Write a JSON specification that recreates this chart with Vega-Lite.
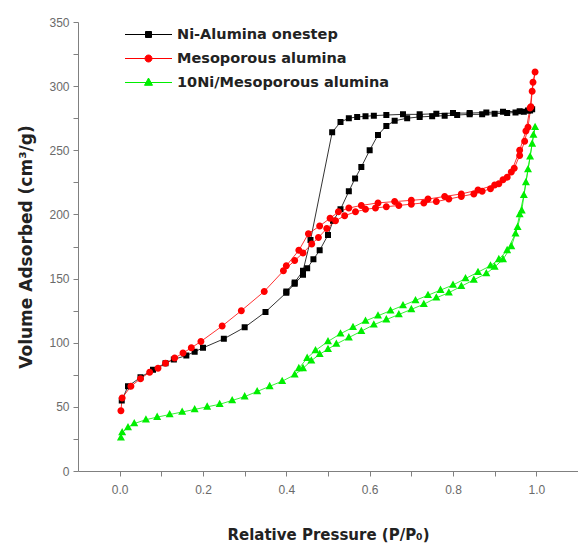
{
  "$schema": "https://vega.github.io/schema/vega-lite/v6.json",
  "width": 500,
  "height": 449,
  "autosize": {"type": "none"},
  "padding": {"left": 78, "top": 22, "right": 0, "bottom": 75},
  "background": "white",
  "config": {"view": {"stroke": null}},
  "datasets": {
    "iso": [
      {"s": "Ni-Alumina onestep", "o": 1, "p": 0.005, "v": 55},
      {"s": "Ni-Alumina onestep", "o": 2, "p": 0.02, "v": 66},
      {"s": "Ni-Alumina onestep", "o": 3, "p": 0.05, "v": 73},
      {"s": "Ni-Alumina onestep", "o": 4, "p": 0.08, "v": 79},
      {"s": "Ni-Alumina onestep", "o": 5, "p": 0.11, "v": 84},
      {"s": "Ni-Alumina onestep", "o": 6, "p": 0.13, "v": 87},
      {"s": "Ni-Alumina onestep", "o": 7, "p": 0.16, "v": 90},
      {"s": "Ni-Alumina onestep", "o": 8, "p": 0.18, "v": 93},
      {"s": "Ni-Alumina onestep", "o": 9, "p": 0.2, "v": 96},
      {"s": "Ni-Alumina onestep", "o": 10, "p": 0.25, "v": 103},
      {"s": "Ni-Alumina onestep", "o": 11, "p": 0.3, "v": 112},
      {"s": "Ni-Alumina onestep", "o": 12, "p": 0.35, "v": 124},
      {"s": "Ni-Alumina onestep", "o": 13, "p": 0.4, "v": 139},
      {"s": "Ni-Alumina onestep", "o": 14, "p": 0.42, "v": 146},
      {"s": "Ni-Alumina onestep", "o": 15, "p": 0.44, "v": 153},
      {"s": "Ni-Alumina onestep", "o": 16, "p": 0.45, "v": 158},
      {"s": "Ni-Alumina onestep", "o": 17, "p": 0.465, "v": 165},
      {"s": "Ni-Alumina onestep", "o": 18, "p": 0.48, "v": 172},
      {"s": "Ni-Alumina onestep", "o": 19, "p": 0.5, "v": 184},
      {"s": "Ni-Alumina onestep", "o": 20, "p": 0.512, "v": 195},
      {"s": "Ni-Alumina onestep", "o": 21, "p": 0.53, "v": 204},
      {"s": "Ni-Alumina onestep", "o": 22, "p": 0.55, "v": 218},
      {"s": "Ni-Alumina onestep", "o": 23, "p": 0.565, "v": 228},
      {"s": "Ni-Alumina onestep", "o": 24, "p": 0.58, "v": 237},
      {"s": "Ni-Alumina onestep", "o": 25, "p": 0.6, "v": 250},
      {"s": "Ni-Alumina onestep", "o": 26, "p": 0.62, "v": 262},
      {"s": "Ni-Alumina onestep", "o": 27, "p": 0.64, "v": 269},
      {"s": "Ni-Alumina onestep", "o": 28, "p": 0.66, "v": 273},
      {"s": "Ni-Alumina onestep", "o": 29, "p": 0.69, "v": 275},
      {"s": "Ni-Alumina onestep", "o": 30, "p": 0.72, "v": 276},
      {"s": "Ni-Alumina onestep", "o": 31, "p": 0.75, "v": 276.5},
      {"s": "Ni-Alumina onestep", "o": 32, "p": 0.78, "v": 277},
      {"s": "Ni-Alumina onestep", "o": 33, "p": 0.81, "v": 277.5},
      {"s": "Ni-Alumina onestep", "o": 34, "p": 0.84, "v": 278},
      {"s": "Ni-Alumina onestep", "o": 35, "p": 0.87, "v": 278},
      {"s": "Ni-Alumina onestep", "o": 36, "p": 0.9, "v": 278.5},
      {"s": "Ni-Alumina onestep", "o": 37, "p": 0.93, "v": 279},
      {"s": "Ni-Alumina onestep", "o": 38, "p": 0.95, "v": 279.5},
      {"s": "Ni-Alumina onestep", "o": 39, "p": 0.97, "v": 280},
      {"s": "Ni-Alumina onestep", "o": 40, "p": 0.98, "v": 281},
      {"s": "Ni-Alumina onestep", "o": 41, "p": 0.99, "v": 282},
      {"s": "Ni-Alumina onestep", "o": 42, "p": 0.985, "v": 281},
      {"s": "Ni-Alumina onestep", "o": 43, "p": 0.96, "v": 280.5},
      {"s": "Ni-Alumina onestep", "o": 44, "p": 0.92, "v": 280},
      {"s": "Ni-Alumina onestep", "o": 45, "p": 0.88, "v": 279.5},
      {"s": "Ni-Alumina onestep", "o": 46, "p": 0.84, "v": 279},
      {"s": "Ni-Alumina onestep", "o": 47, "p": 0.8, "v": 279},
      {"s": "Ni-Alumina onestep", "o": 48, "p": 0.76, "v": 278.5},
      {"s": "Ni-Alumina onestep", "o": 49, "p": 0.72, "v": 278},
      {"s": "Ni-Alumina onestep", "o": 50, "p": 0.68, "v": 278},
      {"s": "Ni-Alumina onestep", "o": 51, "p": 0.64, "v": 277.5},
      {"s": "Ni-Alumina onestep", "o": 52, "p": 0.61, "v": 277},
      {"s": "Ni-Alumina onestep", "o": 53, "p": 0.59, "v": 276.5},
      {"s": "Ni-Alumina onestep", "o": 54, "p": 0.57, "v": 276},
      {"s": "Ni-Alumina onestep", "o": 55, "p": 0.55, "v": 275},
      {"s": "Ni-Alumina onestep", "o": 56, "p": 0.53, "v": 272},
      {"s": "Ni-Alumina onestep", "o": 57, "p": 0.51, "v": 264},
      {"s": "Ni-Alumina onestep", "o": 58, "p": 0.458, "v": 180},
      {"s": "Ni-Alumina onestep", "o": 59, "p": 0.44, "v": 156},
      {"s": "Ni-Alumina onestep", "o": 60, "p": 0.42, "v": 147},
      {"s": "Ni-Alumina onestep", "o": 61, "p": 0.4, "v": 140},

      {"s": "Mesoporous alumina", "o": 1, "p": 0.003, "v": 47},
      {"s": "Mesoporous alumina", "o": 2, "p": 0.006, "v": 57},
      {"s": "Mesoporous alumina", "o": 3, "p": 0.027, "v": 66},
      {"s": "Mesoporous alumina", "o": 4, "p": 0.05, "v": 72},
      {"s": "Mesoporous alumina", "o": 5, "p": 0.072, "v": 77},
      {"s": "Mesoporous alumina", "o": 6, "p": 0.092, "v": 80},
      {"s": "Mesoporous alumina", "o": 7, "p": 0.11, "v": 84},
      {"s": "Mesoporous alumina", "o": 8, "p": 0.132, "v": 88},
      {"s": "Mesoporous alumina", "o": 9, "p": 0.152, "v": 92},
      {"s": "Mesoporous alumina", "o": 10, "p": 0.172, "v": 96},
      {"s": "Mesoporous alumina", "o": 11, "p": 0.195, "v": 101},
      {"s": "Mesoporous alumina", "o": 12, "p": 0.246, "v": 113},
      {"s": "Mesoporous alumina", "o": 13, "p": 0.292, "v": 125},
      {"s": "Mesoporous alumina", "o": 14, "p": 0.347, "v": 140},
      {"s": "Mesoporous alumina", "o": 15, "p": 0.393, "v": 156},
      {"s": "Mesoporous alumina", "o": 16, "p": 0.42, "v": 164},
      {"s": "Mesoporous alumina", "o": 17, "p": 0.44, "v": 170},
      {"s": "Mesoporous alumina", "o": 18, "p": 0.461, "v": 177},
      {"s": "Mesoporous alumina", "o": 19, "p": 0.477, "v": 182},
      {"s": "Mesoporous alumina", "o": 20, "p": 0.497, "v": 189},
      {"s": "Mesoporous alumina", "o": 21, "p": 0.518, "v": 195},
      {"s": "Mesoporous alumina", "o": 22, "p": 0.54, "v": 199},
      {"s": "Mesoporous alumina", "o": 23, "p": 0.566, "v": 202},
      {"s": "Mesoporous alumina", "o": 24, "p": 0.59, "v": 204},
      {"s": "Mesoporous alumina", "o": 25, "p": 0.614, "v": 205},
      {"s": "Mesoporous alumina", "o": 26, "p": 0.64, "v": 206},
      {"s": "Mesoporous alumina", "o": 27, "p": 0.67, "v": 207},
      {"s": "Mesoporous alumina", "o": 28, "p": 0.7, "v": 208},
      {"s": "Mesoporous alumina", "o": 29, "p": 0.73, "v": 209},
      {"s": "Mesoporous alumina", "o": 30, "p": 0.76, "v": 210},
      {"s": "Mesoporous alumina", "o": 31, "p": 0.79, "v": 212},
      {"s": "Mesoporous alumina", "o": 32, "p": 0.82, "v": 214},
      {"s": "Mesoporous alumina", "o": 33, "p": 0.85, "v": 216},
      {"s": "Mesoporous alumina", "o": 34, "p": 0.87, "v": 218},
      {"s": "Mesoporous alumina", "o": 35, "p": 0.89, "v": 220},
      {"s": "Mesoporous alumina", "o": 36, "p": 0.91, "v": 224},
      {"s": "Mesoporous alumina", "o": 37, "p": 0.93, "v": 229},
      {"s": "Mesoporous alumina", "o": 38, "p": 0.947, "v": 236},
      {"s": "Mesoporous alumina", "o": 39, "p": 0.96, "v": 246},
      {"s": "Mesoporous alumina", "o": 40, "p": 0.972, "v": 257},
      {"s": "Mesoporous alumina", "o": 41, "p": 0.98, "v": 268},
      {"s": "Mesoporous alumina", "o": 42, "p": 0.987, "v": 284},
      {"s": "Mesoporous alumina", "o": 43, "p": 0.99, "v": 296},
      {"s": "Mesoporous alumina", "o": 44, "p": 0.997, "v": 311},
      {"s": "Mesoporous alumina", "o": 45, "p": 0.992, "v": 303},
      {"s": "Mesoporous alumina", "o": 46, "p": 0.985, "v": 283},
      {"s": "Mesoporous alumina", "o": 47, "p": 0.975, "v": 265},
      {"s": "Mesoporous alumina", "o": 48, "p": 0.96, "v": 250},
      {"s": "Mesoporous alumina", "o": 49, "p": 0.94, "v": 233},
      {"s": "Mesoporous alumina", "o": 50, "p": 0.92, "v": 227},
      {"s": "Mesoporous alumina", "o": 51, "p": 0.9, "v": 223},
      {"s": "Mesoporous alumina", "o": 52, "p": 0.86, "v": 219},
      {"s": "Mesoporous alumina", "o": 53, "p": 0.82, "v": 216},
      {"s": "Mesoporous alumina", "o": 54, "p": 0.78, "v": 214},
      {"s": "Mesoporous alumina", "o": 55, "p": 0.74, "v": 212},
      {"s": "Mesoporous alumina", "o": 56, "p": 0.7, "v": 211},
      {"s": "Mesoporous alumina", "o": 57, "p": 0.66, "v": 210},
      {"s": "Mesoporous alumina", "o": 58, "p": 0.62, "v": 209},
      {"s": "Mesoporous alumina", "o": 59, "p": 0.58, "v": 207},
      {"s": "Mesoporous alumina", "o": 60, "p": 0.55, "v": 205},
      {"s": "Mesoporous alumina", "o": 61, "p": 0.525, "v": 202},
      {"s": "Mesoporous alumina", "o": 62, "p": 0.505, "v": 197},
      {"s": "Mesoporous alumina", "o": 63, "p": 0.48, "v": 191},
      {"s": "Mesoporous alumina", "o": 64, "p": 0.453, "v": 185},
      {"s": "Mesoporous alumina", "o": 65, "p": 0.43, "v": 172},
      {"s": "Mesoporous alumina", "o": 66, "p": 0.4, "v": 160},

      {"s": "10Ni/Mesoporous alumina", "o": 1, "p": 0.003, "v": 26},
      {"s": "10Ni/Mesoporous alumina", "o": 2, "p": 0.006, "v": 30},
      {"s": "10Ni/Mesoporous alumina", "o": 3, "p": 0.02, "v": 34},
      {"s": "10Ni/Mesoporous alumina", "o": 4, "p": 0.035, "v": 37},
      {"s": "10Ni/Mesoporous alumina", "o": 5, "p": 0.063, "v": 40},
      {"s": "10Ni/Mesoporous alumina", "o": 6, "p": 0.09, "v": 42},
      {"s": "10Ni/Mesoporous alumina", "o": 7, "p": 0.12, "v": 44},
      {"s": "10Ni/Mesoporous alumina", "o": 8, "p": 0.15, "v": 46},
      {"s": "10Ni/Mesoporous alumina", "o": 9, "p": 0.18, "v": 48},
      {"s": "10Ni/Mesoporous alumina", "o": 10, "p": 0.21, "v": 50},
      {"s": "10Ni/Mesoporous alumina", "o": 11, "p": 0.24, "v": 52},
      {"s": "10Ni/Mesoporous alumina", "o": 12, "p": 0.27, "v": 55},
      {"s": "10Ni/Mesoporous alumina", "o": 13, "p": 0.3, "v": 58},
      {"s": "10Ni/Mesoporous alumina", "o": 14, "p": 0.33, "v": 62},
      {"s": "10Ni/Mesoporous alumina", "o": 15, "p": 0.36, "v": 66},
      {"s": "10Ni/Mesoporous alumina", "o": 16, "p": 0.39, "v": 70},
      {"s": "10Ni/Mesoporous alumina", "o": 17, "p": 0.42, "v": 75},
      {"s": "10Ni/Mesoporous alumina", "o": 18, "p": 0.44, "v": 80},
      {"s": "10Ni/Mesoporous alumina", "o": 19, "p": 0.46, "v": 86},
      {"s": "10Ni/Mesoporous alumina", "o": 20, "p": 0.48, "v": 91},
      {"s": "10Ni/Mesoporous alumina", "o": 21, "p": 0.5, "v": 95},
      {"s": "10Ni/Mesoporous alumina", "o": 22, "p": 0.52, "v": 99},
      {"s": "10Ni/Mesoporous alumina", "o": 23, "p": 0.55, "v": 104},
      {"s": "10Ni/Mesoporous alumina", "o": 24, "p": 0.58, "v": 109},
      {"s": "10Ni/Mesoporous alumina", "o": 25, "p": 0.61, "v": 114},
      {"s": "10Ni/Mesoporous alumina", "o": 26, "p": 0.64, "v": 118},
      {"s": "10Ni/Mesoporous alumina", "o": 27, "p": 0.67, "v": 122},
      {"s": "10Ni/Mesoporous alumina", "o": 28, "p": 0.7, "v": 126},
      {"s": "10Ni/Mesoporous alumina", "o": 29, "p": 0.73, "v": 130},
      {"s": "10Ni/Mesoporous alumina", "o": 30, "p": 0.76, "v": 135},
      {"s": "10Ni/Mesoporous alumina", "o": 31, "p": 0.79, "v": 139},
      {"s": "10Ni/Mesoporous alumina", "o": 32, "p": 0.82, "v": 144},
      {"s": "10Ni/Mesoporous alumina", "o": 33, "p": 0.85, "v": 149},
      {"s": "10Ni/Mesoporous alumina", "o": 34, "p": 0.88, "v": 154},
      {"s": "10Ni/Mesoporous alumina", "o": 35, "p": 0.9, "v": 159},
      {"s": "10Ni/Mesoporous alumina", "o": 36, "p": 0.92, "v": 165},
      {"s": "10Ni/Mesoporous alumina", "o": 37, "p": 0.94, "v": 175},
      {"s": "10Ni/Mesoporous alumina", "o": 38, "p": 0.955, "v": 190},
      {"s": "10Ni/Mesoporous alumina", "o": 39, "p": 0.965, "v": 203},
      {"s": "10Ni/Mesoporous alumina", "o": 40, "p": 0.975, "v": 225},
      {"s": "10Ni/Mesoporous alumina", "o": 41, "p": 0.985, "v": 245},
      {"s": "10Ni/Mesoporous alumina", "o": 42, "p": 0.993, "v": 262},
      {"s": "10Ni/Mesoporous alumina", "o": 43, "p": 0.997, "v": 268},
      {"s": "10Ni/Mesoporous alumina", "o": 44, "p": 0.99, "v": 255},
      {"s": "10Ni/Mesoporous alumina", "o": 45, "p": 0.98, "v": 235},
      {"s": "10Ni/Mesoporous alumina", "o": 46, "p": 0.97, "v": 215},
      {"s": "10Ni/Mesoporous alumina", "o": 47, "p": 0.96, "v": 200},
      {"s": "10Ni/Mesoporous alumina", "o": 48, "p": 0.95, "v": 185},
      {"s": "10Ni/Mesoporous alumina", "o": 49, "p": 0.93, "v": 172},
      {"s": "10Ni/Mesoporous alumina", "o": 50, "p": 0.91, "v": 165},
      {"s": "10Ni/Mesoporous alumina", "o": 51, "p": 0.89, "v": 160},
      {"s": "10Ni/Mesoporous alumina", "o": 52, "p": 0.86, "v": 155},
      {"s": "10Ni/Mesoporous alumina", "o": 53, "p": 0.83, "v": 150},
      {"s": "10Ni/Mesoporous alumina", "o": 54, "p": 0.8, "v": 145},
      {"s": "10Ni/Mesoporous alumina", "o": 55, "p": 0.77, "v": 141},
      {"s": "10Ni/Mesoporous alumina", "o": 56, "p": 0.74, "v": 137},
      {"s": "10Ni/Mesoporous alumina", "o": 57, "p": 0.71, "v": 133},
      {"s": "10Ni/Mesoporous alumina", "o": 58, "p": 0.68, "v": 129},
      {"s": "10Ni/Mesoporous alumina", "o": 59, "p": 0.65, "v": 125},
      {"s": "10Ni/Mesoporous alumina", "o": 60, "p": 0.62, "v": 121},
      {"s": "10Ni/Mesoporous alumina", "o": 61, "p": 0.59, "v": 117},
      {"s": "10Ni/Mesoporous alumina", "o": 62, "p": 0.56, "v": 112},
      {"s": "10Ni/Mesoporous alumina", "o": 63, "p": 0.53, "v": 107},
      {"s": "10Ni/Mesoporous alumina", "o": 64, "p": 0.5, "v": 101},
      {"s": "10Ni/Mesoporous alumina", "o": 65, "p": 0.47, "v": 94},
      {"s": "10Ni/Mesoporous alumina", "o": 66, "p": 0.45, "v": 88},
      {"s": "10Ni/Mesoporous alumina", "o": 67, "p": 0.43, "v": 80}
    ]
  },
  "data": {"name": "iso"},
  "encoding": {
    "x": {
      "field": "p", "type": "quantitative",
      "scale": {"domain": [-0.1, 1.1], "nice": false, "zero": false},
      "axis": {
        "title": "Relative Pressure (P/P₀)",
        "values": [0, 0.1, 0.2, 0.3, 0.4, 0.5, 0.6, 0.7, 0.8, 0.9, 1.0],
        "labelExpr": "round(datum.value*10) % 2 === 0 ? format(datum.value, '.1f') : ''",
        "grid": false,
        "domainColor": "#808080", "tickColor": "#808080", "tickSize": 5,
        "labelColor": "#6a6a6a", "labelFont": "Liberation Sans", "labelFontSize": 12, "labelPadding": 8,
        "titleFont": "DejaVu Sans", "titleFontWeight": "bold", "titleFontSize": 15, "titleColor": "#222", "titlePadding": 32
      }
    },
    "y": {
      "field": "v", "type": "quantitative",
      "scale": {"domain": [0, 350], "nice": false},
      "axis": {
        "title": "Volume Adsorbed (cm³/g)",
        "values": [0, 25, 50, 75, 100, 125, 150, 175, 200, 225, 250, 275, 300, 325, 350],
        "labelExpr": "datum.value % 50 === 0 ? datum.value : ''",
        "grid": false,
        "domainColor": "#808080", "tickColor": "#808080", "tickSize": 5,
        "labelColor": "#6a6a6a", "labelFont": "Liberation Sans", "labelFontSize": 12, "labelPadding": 4,
        "titleFont": "DejaVu Sans", "titleFontWeight": "bold", "titleFontSize": 17, "titleColor": "#222", "titlePadding": 13
      }
    },
    "color": {
      "field": "s", "type": "nominal",
      "scale": {"domain": ["Ni-Alumina onestep", "Mesoporous alumina", "10Ni/Mesoporous alumina"], "range": ["#000000", "#ff0000", "#00ee00"]},
      "legend": {
        "title": null, "orient": "none", "legendX": 60, "legendY": 2,
        "symbolSize": 400, "symbolStrokeWidth": 1, "labelFont": "DejaVu Sans", "labelFontWeight": "bold", "labelFontSize": 14.5, "labelColor": "#222",
        "labelOffset": 18, "rowPadding": 7, "labelLimit": 0
      }
    }
  },
  "layer": [
    {
      "mark": {"type": "line", "strokeWidth": 0.8},
      "encoding": {"order": {"field": "o", "type": "quantitative"}}
    },
    {
      "mark": {"type": "point", "filled": true, "opacity": 1, "strokeWidth": 0},
      "encoding": {
        "shape": {
          "field": "s", "type": "nominal",
          "scale": {"domain": ["Ni-Alumina onestep", "Mesoporous alumina", "10Ni/Mesoporous alumina"], "range": ["M-2.35,0H2.35M-0.3,-0.3H0.3V0.3H-0.3Z", "M-2.35,0H2.35M0.35,0A0.35,0.35,0,1,1,-0.35,0A0.35,0.35,0,1,1,0.35,0Z", "M-2.35,0H2.35M0,-0.45L0.4,0.28H-0.4Z"]},
          "legend": null
        },
        "size": {"value": 400}
      }
    }
  ]
}
